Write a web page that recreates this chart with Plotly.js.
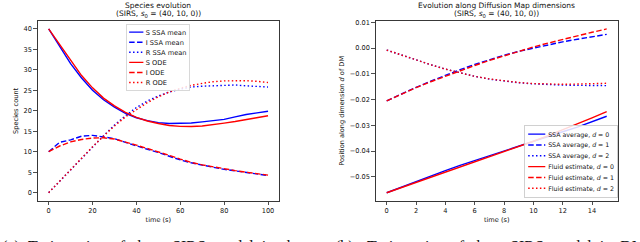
<!DOCTYPE html>
<html>
<head>
<meta charset="utf-8">
<script src="https://cdn.plot.ly/plotly-3.0.1.min.js"></script>
<style>html,body{margin:0;padding:0;background:#fff;}#chart{width:640px;height:242px;}</style>
</head>
<body>
<div id="chart"></div>
<script>
// ---- Left panel: species evolution ----
const timeA = [0,5,10,15,20,25,30,35,40,45,50,55,60,65,70,75,80,85,90,95,100];
const sSSA = [40,35.6,31.5,28.0,25.0,22.7,20.9,19.4,18.3,17.6,17.1,16.9,16.9,17.0,17.3,17.6,17.9,18.5,19.1,19.5,19.9];
const iSSA = [10,12.3,12.9,13.8,14.0,13.6,13.2,12.3,11.4,10.6,9.8,8.9,8.0,7.3,6.7,6.2,5.7,5.3,5.0,4.6,4.2];
const rSSA = [0,2.8,5.7,8.5,11.2,13.9,16.5,18.8,20.8,22.4,23.6,24.6,25.3,25.8,26.0,26.1,26.2,26.3,26.1,25.9,25.8];
const sODE = [40,36.1,32.2,28.6,25.6,23.1,21.2,19.6,18.4,17.5,16.9,16.4,16.2,16.15,16.3,16.6,17.0,17.4,17.9,18.3,18.8];
const iODE = [10,11.4,12.4,13.0,13.35,13.4,13.1,12.4,11.6,10.8,10.0,9.1,8.2,7.4,6.8,6.3,5.8,5.4,5.0,4.6,4.3];
const rODE = [0,2.8,5.7,8.5,11.2,13.8,16.3,18.5,20.3,22.0,23.4,24.6,25.5,26.2,26.7,27.1,27.3,27.4,27.35,27.2,26.9];

// ---- Right panel: diffusion map dimensions ----
const timeB = [0,1,2,3,4,5,6,7,8,9,10,11,12,13,14,15];
const ssaD0 = [-0.0562,-0.0540,-0.0518,-0.0497,-0.0476,-0.0456,-0.0437,-0.0418,-0.0399,-0.0381,-0.0362,-0.0344,-0.0325,-0.0307,-0.0286,-0.0265];
const ssaD1 = [-0.0205,-0.0178,-0.0153,-0.0129,-0.0106,-0.0084,-0.0064,-0.0045,-0.0028,-0.0013,0.0000,0.0012,0.0024,0.0034,0.0044,0.0053];
const ssaD2 = [-0.0008,-0.0028,-0.0047,-0.0065,-0.0082,-0.0097,-0.0110,-0.0121,-0.0129,-0.0135,-0.0139,-0.0142,-0.0144,-0.0145,-0.0146,-0.0146];
const fluidD0 = [-0.0562,-0.0542,-0.0522,-0.0502,-0.0483,-0.0463,-0.0443,-0.0424,-0.0403,-0.0383,-0.0362,-0.0340,-0.0318,-0.0295,-0.0271,-0.0247];
const fluidD1 = [-0.0205,-0.0179,-0.0154,-0.0131,-0.0109,-0.0088,-0.0068,-0.0048,-0.0030,-0.0012,0.0004,0.0019,0.0034,0.0048,0.0061,0.0074];
const fluidD2 = [-0.0008,-0.0028,-0.0047,-0.0065,-0.0082,-0.0097,-0.0110,-0.0120,-0.0128,-0.0134,-0.0138,-0.0140,-0.0141,-0.0140,-0.0139,-0.0137];

const namesA = ['S SSA mean','I SSA mean','R SSA mean','S ODE','I ODE','R ODE'];
const namesB = ['SSA average, <i>d</i> = 0','SSA average, <i>d</i> = 1','SSA average, <i>d</i> = 2',
                'Fluid estimate, <i>d</i> = 0','Fluid estimate, <i>d</i> = 1','Fluid estimate, <i>d</i> = 2'];

const BLUE = '#0000ff', RED = '#ff0000';
const dashes = ['solid','5.5px,2.4px','1.5px,2.4px'];
const seriesA = [sSSA,iSSA,rSSA,sODE,iODE,rODE];
const seriesB = [ssaD0,ssaD1,ssaD2,fluidD0,fluidD1,fluidD2];

const traces = [];
seriesA.forEach((ys,k)=>{
  traces.push({x: timeA, y: ys, type:'scatter', mode:'lines', name: namesA[k],
    xaxis:'x', yaxis:'y', legend:'legend',
    line:{color: k<3?BLUE:RED, width:1.4, dash: dashes[k%3]}});
});
seriesB.forEach((ys,k)=>{
  traces.push({x: timeB, y: ys, type:'scatter', mode:'lines', name: namesB[k],
    xaxis:'x2', yaxis:'y2', legend:'legend2',
    line:{color: k<3?BLUE:RED, width:1.4, dash: dashes[k%3]}});
});

const W = 640, H = 242;
const px = v => v / W, py = v => 1 - v / H;
const FONT = 'DejaVu Sans, sans-serif';
const axisCommon = {
  showgrid:false, zeroline:false, showline:true, mirror:true, linecolor:'#222', linewidth:0.9,
  ticks:'outside', ticklen:3.5, tickwidth:0.8, tickcolor:'#222',
  tickfont:{family:FONT, size:6.6, color:'#111'}
};
const capFont = {family:'Liberation Serif, serif', size:16, color:'#111'};
const cap = (text, x) => ({text, x:px(x), y:py(236), xref:'paper', yref:'paper', showarrow:false,
  font:capFont, xanchor:'left', yanchor:'top'});

const layout = {
  width: W, height: H, margin:{l:0,r:0,t:0,b:0},
  paper_bgcolor:'#fff', plot_bgcolor:'#fff', showlegend:true,
  font:{family:FONT, color:'#111'},
  xaxis: Object.assign({}, axisCommon, {domain:[px(37.7), px(279)], range:[-5,105],
    tickvals:[0,20,40,60,80,100], anchor:'y',
    title:{text:'time (s)', font:{family:FONT,size:6.6,color:'#111'}, standoff:3}}),
  yaxis: Object.assign({}, axisCommon, {domain:[py(201), py(20.7)], range:[-2.03,42.0],
    tickvals:[0,5,10,15,20,25,30,35,40], anchor:'x',
    title:{text:'Species count', font:{family:FONT,size:6.6,color:'#111'}, standoff:4}}),
  xaxis2: Object.assign({}, axisCommon, {domain:[px(375.7), px(617.7)], range:[-0.75,15.75],
    tickvals:[0,2,4,6,8,10,12,14], anchor:'y2',
    title:{text:'time (s)', font:{family:FONT,size:6.6,color:'#111'}, standoff:3}}),
  yaxis2: Object.assign({}, axisCommon, {domain:[py(201), py(20.7)], range:[-0.0594,0.0106],
    tickvals:[0.01,0,-0.01,-0.02,-0.03,-0.04,-0.05], tickformat:'.2f', anchor:'x2',
    title:{text:'Position along dimension <i>d</i> of DM', font:{family:FONT,size:6.6,color:'#111'}, standoff:4}}),
  // legends start fully inside the paper (no margin push), then get shrunk & placed below
  legend:{x:px(126), y:py(24), xanchor:'left', yanchor:'top',
    bgcolor:'rgba(255,255,255,0.85)', bordercolor:'#ccc', borderwidth:1.6,
    font:{family:FONT,size:14,color:'#111'}, tracegroupgap:0},
  legend2:{x:px(400), y:py(24), xanchor:'left', yanchor:'top',
    bgcolor:'rgba(255,255,255,0.85)', bordercolor:'#ccc', borderwidth:1.6,
    font:{family:FONT,size:11,color:'#111'}, tracegroupgap:0},
  annotations:[
    {text:'Species evolution', x:px(158.4), y:py(5), xref:'paper', yref:'paper', showarrow:false,
     font:{family:FONT,size:7.5,color:'#111'}, xanchor:'center', yanchor:'middle'},
    {text:'(SIRS, <i>s</i><sub>0</sub> = (40, 10, 0))', x:px(158.4), y:py(14.5), xref:'paper', yref:'paper', showarrow:false,
     font:{family:FONT,size:7.5,color:'#111'}, xanchor:'center', yanchor:'middle'},
    {text:'Evolution along Diffusion Map dimensions', x:px(496.7), y:py(5), xref:'paper', yref:'paper', showarrow:false,
     font:{family:FONT,size:7.5,color:'#111'}, xanchor:'center', yanchor:'middle'},
    {text:'(SIRS, <i>s</i><sub>0</sub> = (40, 10, 0))', x:px(496.7), y:py(14.5), xref:'paper', yref:'paper', showarrow:false,
     font:{family:FONT,size:7.5,color:'#111'}, xanchor:'center', yanchor:'middle'},
    cap('(a)', 0), cap('Trajectories  of  the', 26), cap('SIRS  model  in  the', 170),
    cap('(b)', 333), cap('Trajectories  of  the', 365), cap('SIRS  model  in  DM', 508)
  ]
};

Plotly.newPlot('chart', traces, layout, {displayModeBar:false, staticPlot:true}).then(() => {
  // shrink each legend to matplotlib-like compactness
  const fix = (cls, s, place) => {
    const g = document.querySelector('g.' + cls);
    if (!g) return;
    const bg = g.querySelector('rect.bg');
    const w = +bg.getAttribute('width'), h = +bg.getAttribute('height');
    const [tx, ty] = place(w * s, h * s);
    g.setAttribute('transform', `translate(${tx},${ty}) scale(${s})`);
    g.querySelectorAll('path.js-line').forEach(p => {
      const sw = parseFloat(p.style.strokeWidth) || 1.4;
      p.style.strokeWidth = (sw / s) + 'px';
      const da = p.style.strokeDasharray;
      if (da && da !== 'none') {
        p.style.strokeDasharray = da.split(',').map(v => (parseFloat(v) / s) + 'px').join(',');
      }
    });
  };
  fix('legend', 0.475, (w, h) => [126, 24]);
  fix('legend2', 0.57, (w, h) => [617 - w, 197 - h]);
});
</script>
</body>
</html>
